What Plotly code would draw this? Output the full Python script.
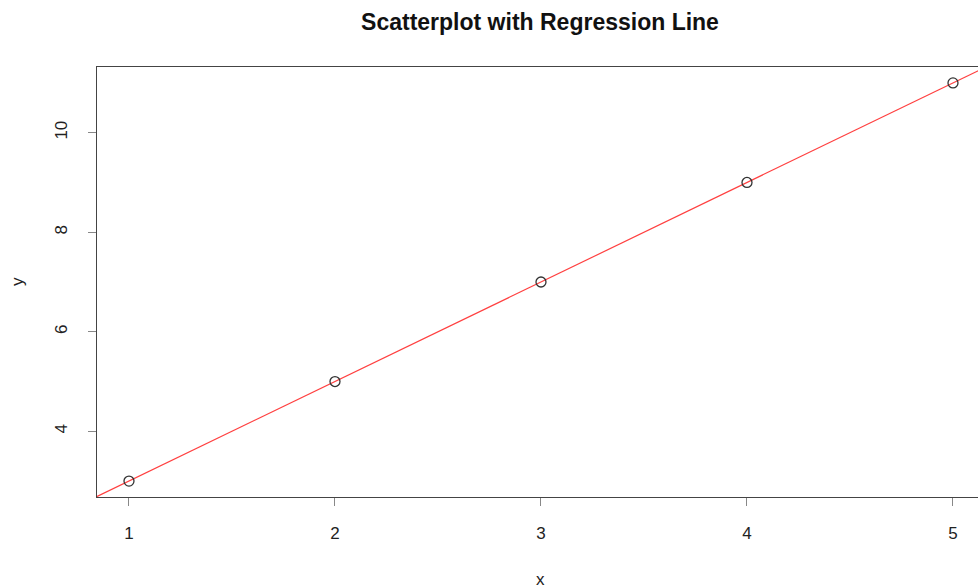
import numpy as np
import plotly.graph_objects as go

x_vals = [1, 2, 3, 4, 5]
y_vals = [3, 5, 7, 9, 11]
x_ticks = [1, 2, 3, 4, 5]
y_ticks = [4, 6, 8, 10]

x_range = [0.8447, 5.1214]
y_range = [2.68, 11.32]

slope, intercept = np.polyfit(x_vals, y_vals, 1)
line_x = np.array([x_range[0] - 0.5, x_range[1] + 0.5])
line_y = slope * line_x + intercept

fig = go.Figure()
fig.add_trace(go.Scatter(x=line_x, y=line_y, mode="lines",
                         line=dict(color="#ff4040", width=1.2), showlegend=False))
fig.add_trace(go.Scatter(x=x_vals, y=y_vals, mode="markers",
                         marker=dict(symbol="circle-open", size=10,
                                     color="#333333", line=dict(width=1.3)),
                         showlegend=False))

font_family = "Liberation Sans, Arial, Helvetica, sans-serif"
fig.update_layout(
    width=978, height=588,
    margin=dict(l=97, r=0, t=67, b=91),
    paper_bgcolor="white", plot_bgcolor="white",
    font=dict(family=font_family, size=17, color="#222222"),
    title=dict(text="<b>Scatterplot with Regression Line</b>",
               x=540/978, xref="container", xanchor="center",
               y=1 - 22/588, yref="container", yanchor="middle",
               font=dict(size=23, color="#111111")),
    xaxis=dict(range=x_range, tickvals=x_ticks, showgrid=False, zeroline=False,
               showline=True, linecolor="#444444", linewidth=1.3, mirror=True,
               ticks="outside", ticklen=8, tickcolor="#888888", tickwidth=1,
               ticklabelstandoff=12, tickfont=dict(size=17, color="#222222")),
    yaxis=dict(range=y_range, tickvals=y_ticks, showgrid=False, zeroline=False,
               showline=True, linecolor="#444444", linewidth=1.3, mirror=False,
               ticks="outside", ticklen=8, tickcolor="#888888", tickwidth=1,
               tickangle=-90, ticklabelstandoff=14,
               tickfont=dict(size=17, color="#222222")),
    annotations=[
        dict(text="x", xref="paper", yref="paper", x=(540-97)/881, y=-(579-497)/430,
             showarrow=False, xanchor="center", yanchor="middle",
             font=dict(size=17, color="#222222")),
        dict(text="y", xref="paper", yref="paper", x=-(97-17)/881, y=(497-282)/430,
             showarrow=False, xanchor="center", yanchor="middle", textangle=-90,
             font=dict(size=17, color="#222222")),
    ],
)
fig.write_html("out.html", config={"displayModeBar": False},
               post_script="document.body.style.margin='0';document.body.style.overflow='hidden';")
